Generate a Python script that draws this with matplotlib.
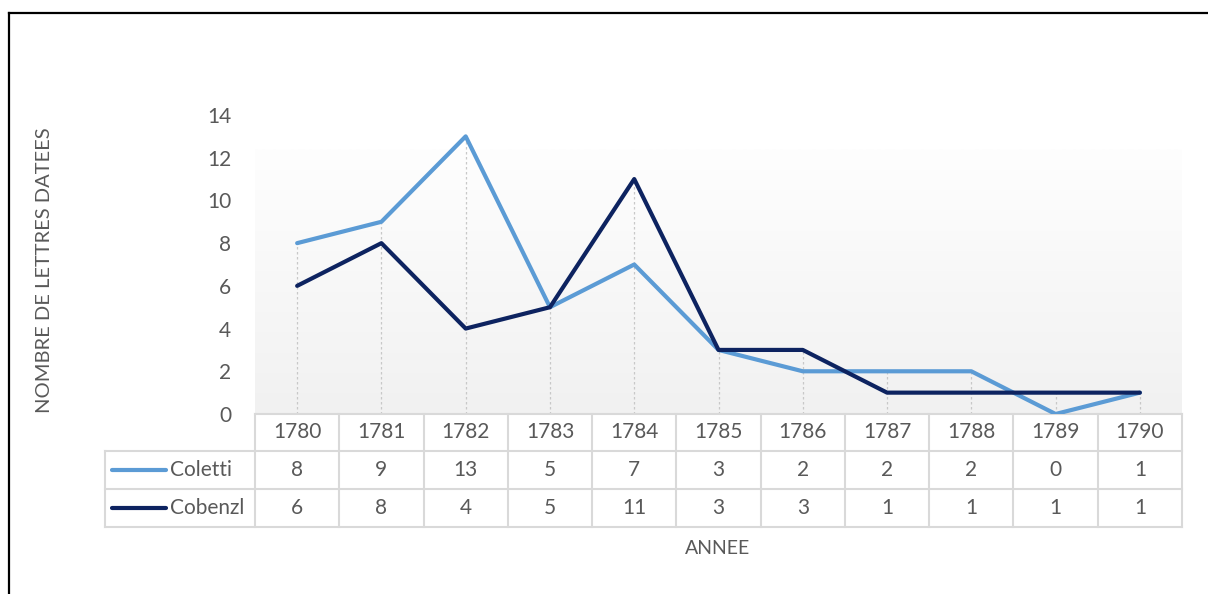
import numpy as np
import matplotlib.pyplot as plt
from matplotlib.lines import Line2D
from matplotlib.colors import LinearSegmentedColormap
import matplotlib.transforms as mtransforms

plt.rcParams['font.family'] = ['Lato', 'DejaVu Sans']

years = ['1780', '1781', '1782', '1783', '1784', '1785', '1786', '1787', '1788', '1789', '1790']
coletti = [8, 9, 13, 5, 7, 3, 2, 2, 2, 0, 1]
cobenzl = [6, 8, 4, 5, 11, 3, 3, 1, 1, 1, 1]
series_names = ['Coletti', 'Cobenzl']
yticks = [0, 2, 4, 6, 8, 10, 12, 14]

c_coletti = '#5b9bd5'
c_cobenzl = '#0d2360'
txt = '#595959'
grid_c = '#d9d9d9'

W, H = 1208, 594
fig = plt.figure(figsize=(W / 100, H / 100), dpi=100)

# outer frame (only top and left edge fall inside the canvas)
fig.add_artist(Line2D([9 / W, 9 / W], [0, 1 - 13 / H], color='black', lw=1.6))
fig.add_artist(Line2D([9 / W, 1], [1 - 13 / H, 1 - 13 / H], color='black', lw=1.6))

ax_l, ax_r, ax_b, ax_t = 255, 1182, 414, 115
ax = fig.add_axes([ax_l / W, 1 - ax_b / H, (ax_r - ax_l) / W, (ax_b - ax_t) / H])
x = np.arange(len(years))
ax.set_xlim(-0.5, len(years) - 0.5)
ax.set_ylim(0, 14)

# soft vertical gradient in the plot area
grad = LinearSegmentedColormap.from_list('bg', ['#f1f1f1', '#fefefe'])
ax.imshow(np.linspace(0, 1, 256).reshape(-1, 1), cmap=grad, origin='lower',
          extent=[-0.5, len(years) - 0.5, 0, 12.4], aspect='auto', zorder=0)

# drop lines from the highest point of each year
tops = np.maximum(coletti, cobenzl)
ax.vlines(x, 0, tops, colors='#c8c8c8', linestyles=(0, (2, 2)), lw=0.9, zorder=1)

ax.plot(x, coletti, color=c_coletti, lw=3, solid_capstyle='round', zorder=3)
ax.plot(x, cobenzl, color=c_cobenzl, lw=3, solid_capstyle='round', zorder=3)

for s in ax.spines.values():
    s.set_visible(False)
ax.set_xticks([])
ax.set_yticks(yticks)
ax.tick_params(axis='y', length=0, pad=17, labelsize=15, labelcolor=txt)

fig.text(36 / W, 1 - 270 / H, 'NOMBRE DE LETTRES DATEES',
         rotation=90, ha='left', va='center', fontsize=14.5, color=txt)
fig.text(718 / W, 1 - 548 / H, 'ANNEE',
         ha='center', va='center', fontsize=14, color=txt)

# data table below the axis, x in data units, y in pixels from the top
tr = mtransforms.blended_transform_factory(ax.transData, fig.transFigure)
def fy(p):
    return 1 - p / H

rows = [414, 451, 489, 527]
step = (ax_r - ax_l) / len(years)
leg_x0 = -0.5 - 150 / step
for r in rows:
    x0 = -0.5 if r == rows[0] else leg_x0
    ax.add_line(Line2D([x0, len(years) - 0.5], [fy(r), fy(r)], transform=tr,
                       color=grid_c, lw=1.5, clip_on=False))
for i in range(len(years) + 1):
    ax.add_line(Line2D([i - 0.5, i - 0.5], [fy(rows[0]), fy(rows[-1])], transform=tr,
                       color=grid_c, lw=1.5, clip_on=False))
ax.add_line(Line2D([leg_x0, leg_x0], [fy(rows[1]), fy(rows[-1])], transform=tr,
                   color=grid_c, lw=1.5, clip_on=False))

for i, y in enumerate(years):
    ax.text(i, fy((rows[0] + rows[1]) / 2), y, transform=tr, ha='center', va='center',
            fontsize=15, color=txt)

for k, (name, vals, col) in enumerate([(series_names[0], coletti, c_coletti),
                                       (series_names[1], cobenzl, c_cobenzl)]):
    yc = fy((rows[k + 1] + rows[k + 2]) / 2)
    ax.add_line(Line2D([leg_x0 + 7 / step, leg_x0 + 61 / step], [yc, yc], transform=tr,
                       color=col, lw=3, solid_capstyle='round', clip_on=False))
    ax.text(leg_x0 + 65 / step, yc, name, transform=tr, ha='left', va='center',
            fontsize=15, color=txt)
    for i, v in enumerate(vals):
        ax.text(i, yc, str(v), transform=tr, ha='center', va='center',
                fontsize=15, color=txt)

fig.savefig('out.png', dpi=100)
